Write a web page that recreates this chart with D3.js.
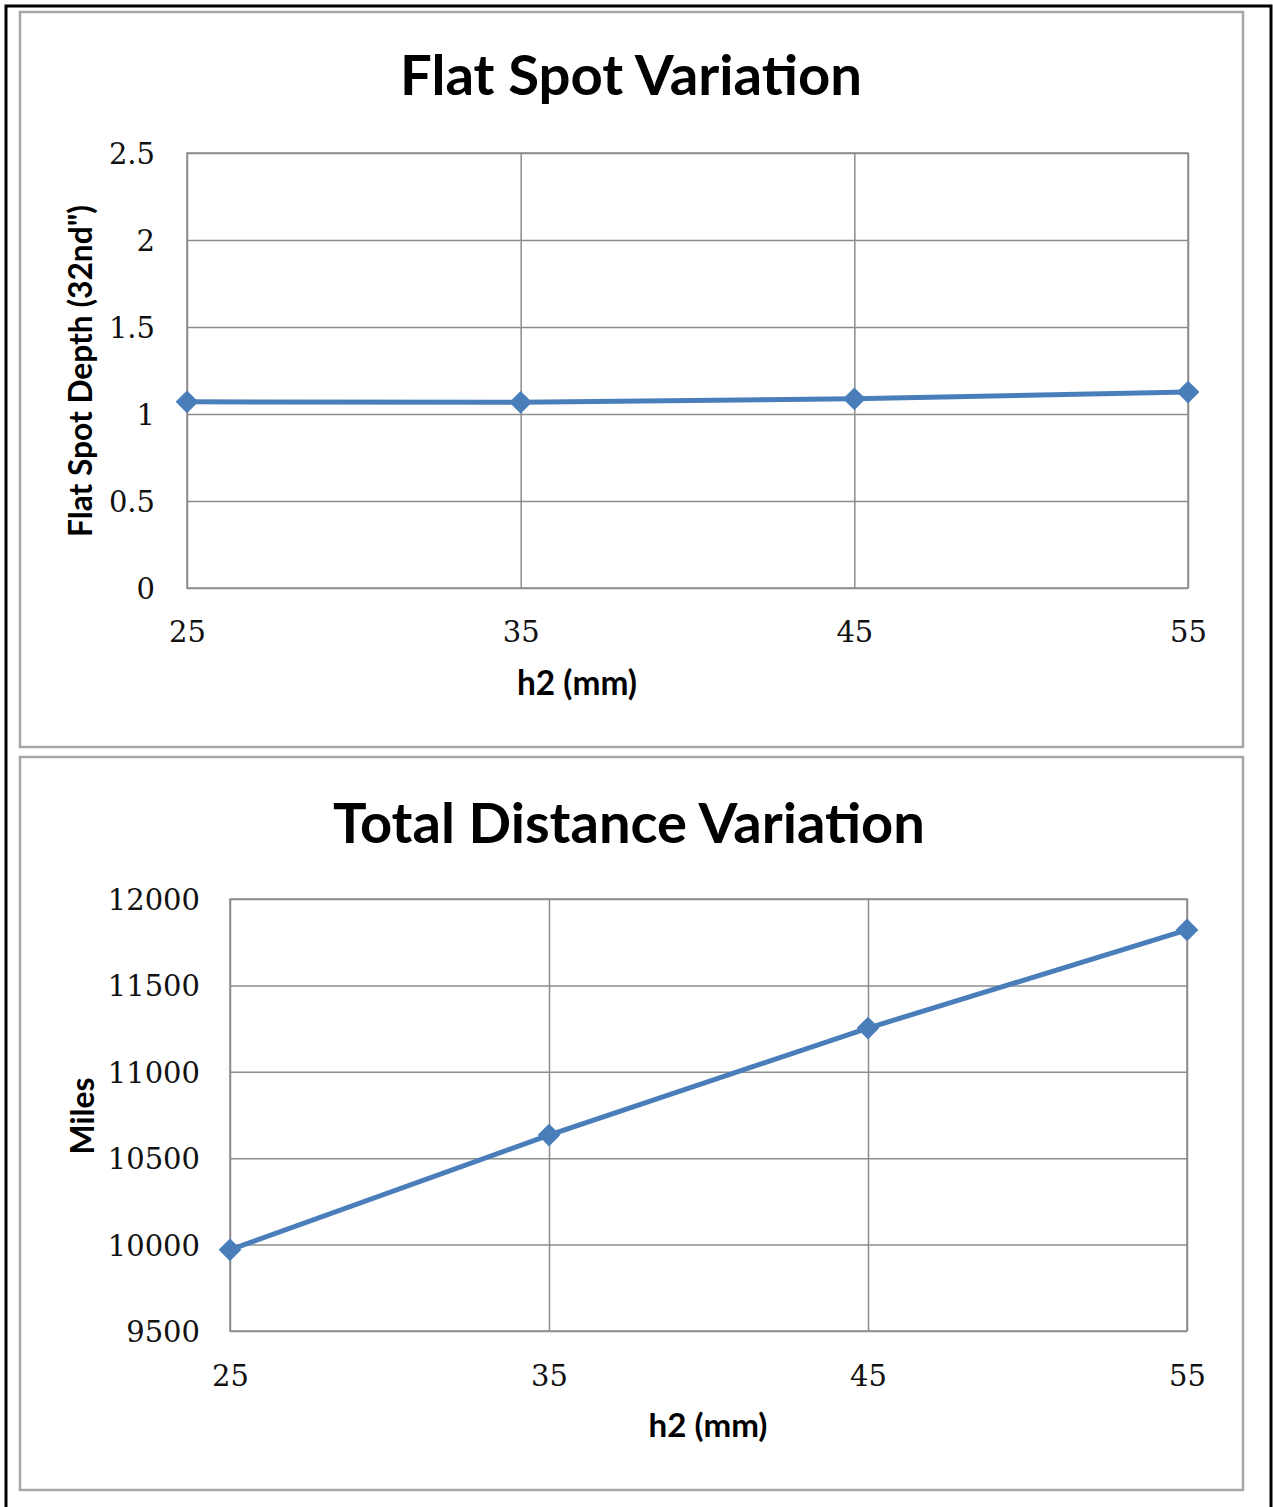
<!DOCTYPE html>
<html>
<head>
<meta charset="utf-8">
<script src="https://cdn.jsdelivr.net/npm/d3@7"></script>
<style>
  html, body { margin: 0; padding: 0; background: #fff; }
  svg { display: block; }
</style>
</head>
<body>
<svg id="page" width="1273" height="1507"></svg>
<script>
// h2 settings tested (mm)
const h2Values = [25, 35, 45, 55];
// Flat spot depth, in 32nds of an inch
const flatSpotDepth = [1.07, 1.067, 1.087, 1.126];
// Total distance travelled, miles
const totalMiles = [9970, 10634, 11253, 11821];

const xTicks = [25, 35, 45, 55];
const flatTicks = [0, 0.5, 1, 1.5, 2, 2.5];
const milesTicks = [9500, 10000, 10500, 11000, 11500, 12000];

const svg = d3.select("#page");
const lineColor = "#4a7ebb";
const gridColor = "#8c8c8c";
const titleFont = "Lato, 'Open Sans', sans-serif";
const tickFont = "'DejaVu Serif', 'Liberation Serif', serif";

// page frame
svg.append("rect").attr("x", 6).attr("y", 6).attr("width", 1265).attr("height", 1510)
  .attr("fill", "none").attr("stroke", "#000").attr("stroke-width", 3);

// shrink or grow a text's font size so it spans the given width
function fitWidth(sel, width) {
  const node = sel.node();
  const fs = parseFloat(sel.attr("font-size"));
  const w = node.getComputedTextLength();
  sel.attr("font-size", (fs * width / w).toFixed(2));
}

function drawChart(cfg) {
  const g = svg.append("g");
  // chart panel
  g.append("rect").attr("x", cfg.panel[0]).attr("y", cfg.panel[1])
    .attr("width", cfg.panel[2]).attr("height", cfg.panel[3])
    .attr("fill", "#fff").attr("stroke", "#a6a6a6").attr("stroke-width", 2.5);

  const x = d3.scaleLinear().domain([25, 55]).range([cfg.plot.left, cfg.plot.right]);
  const y = d3.scaleLinear().domain(cfg.yDomain).range([cfg.plot.bottom, cfg.plot.top]);
  const pw = cfg.plot.right - cfg.plot.left;
  const ph = cfg.plot.bottom - cfg.plot.top;

  // horizontal gridlines with y tick labels
  const yAxis = g.append("g").attr("transform", `translate(${cfg.plot.left},0)`)
    .call(d3.axisLeft(y).tickValues(cfg.yTicks).tickSize(-pw).tickPadding(cfg.yPad)
      .tickFormat(cfg.yFormat));
  yAxis.select(".domain").remove();
  yAxis.selectAll("line").attr("stroke", gridColor).attr("stroke-width", 1.5);
  yAxis.selectAll("text").attr("font-family", tickFont).attr("font-size", 29)
    .attr("fill", "#111").attr("dy", "0.36em");

  // vertical gridlines with x tick labels
  const xAxis = g.append("g").attr("transform", `translate(0,${cfg.plot.bottom})`)
    .call(d3.axisBottom(x).tickValues(xTicks).tickSize(-ph).tickPadding(0));
  xAxis.select(".domain").remove();
  xAxis.selectAll("line").attr("stroke", gridColor).attr("stroke-width", 1.5);
  xAxis.selectAll("text").attr("font-family", tickFont).attr("font-size", 29)
    .attr("fill", "#111").attr("dy", 0).attr("y", cfg.xLabelDy);

  // plot frame
  g.append("rect").attr("x", cfg.plot.left).attr("y", cfg.plot.top)
    .attr("width", pw).attr("height", ph)
    .attr("fill", "none").attr("stroke", gridColor).attr("stroke-width", 1.5);

  // series line and diamond markers
  const pts = h2Values.map((h, i) => [h, cfg.values[i]]);
  g.append("path").datum(pts)
    .attr("d", d3.line().x(d => x(d[0])).y(d => y(d[1])))
    .attr("fill", "none").attr("stroke", lineColor).attr("stroke-width", 5);
  g.selectAll(".mk").data(pts).enter().append("path")
    .attr("d", d3.symbol(d3.symbolDiamond2, 330)())
    .attr("transform", d => `translate(${x(d[0])},${y(d[1])})`)
    .attr("fill", lineColor);

  // titles
  const title = g.append("text").attr("x", cfg.title[0]).attr("y", cfg.title[1])
    .attr("text-anchor", "middle").attr("font-family", titleFont).attr("font-weight", 700)
    .attr("font-size", 50).attr("fill", "#000").text(cfg.titleText);
  fitWidth(title, cfg.title[2]);

  const xt = g.append("text").attr("x", cfg.xTitle[0]).attr("y", cfg.xTitle[1])
    .attr("text-anchor", "middle").attr("font-family", titleFont).attr("font-weight", 700)
    .attr("font-size", 28).attr("fill", "#000").text("h2 (mm)");
  fitWidth(xt, cfg.xTitle[2]);

  const yt = g.append("text")
    .attr("transform", `translate(${cfg.yTitle[0]},${cfg.yTitle[1]}) rotate(-90)`)
    .attr("text-anchor", "middle").attr("font-family", titleFont).attr("font-weight", 700)
    .attr("font-size", 28).attr("fill", "#000").text(cfg.yTitleText);
  fitWidth(yt, cfg.yTitle[2]);
}

drawChart({
  panel: [20, 12, 1223, 735],
  plot: { left: 187, right: 1188, top: 153, bottom: 588 },
  yDomain: [0, 2.5], yTicks: flatTicks, yFormat: d3.format("~g"), yPad: 32,
  xLabelDy: 54,
  values: flatSpotDepth,
  titleText: "Flat Spot Variation", title: [631, 95, 462],
  xTitle: [577, 695, 120],
  yTitleText: "Flat Spot Depth (32nd\")", yTitle: [92, 371, 332]
});

drawChart({
  panel: [20, 757, 1223, 733],
  plot: { left: 230, right: 1187, top: 899, bottom: 1331 },
  yDomain: [9500, 12000], yTicks: milesTicks, yFormat: d3.format("d"), yPad: 30,
  xLabelDy: 55,
  values: totalMiles,
  titleText: "Total Distance Variation", title: [629, 843, 592],
  xTitle: [708, 1437, 119],
  yTitleText: "Miles", yTitle: [94, 1116, 77]
});
</script>
</body>
</html>
